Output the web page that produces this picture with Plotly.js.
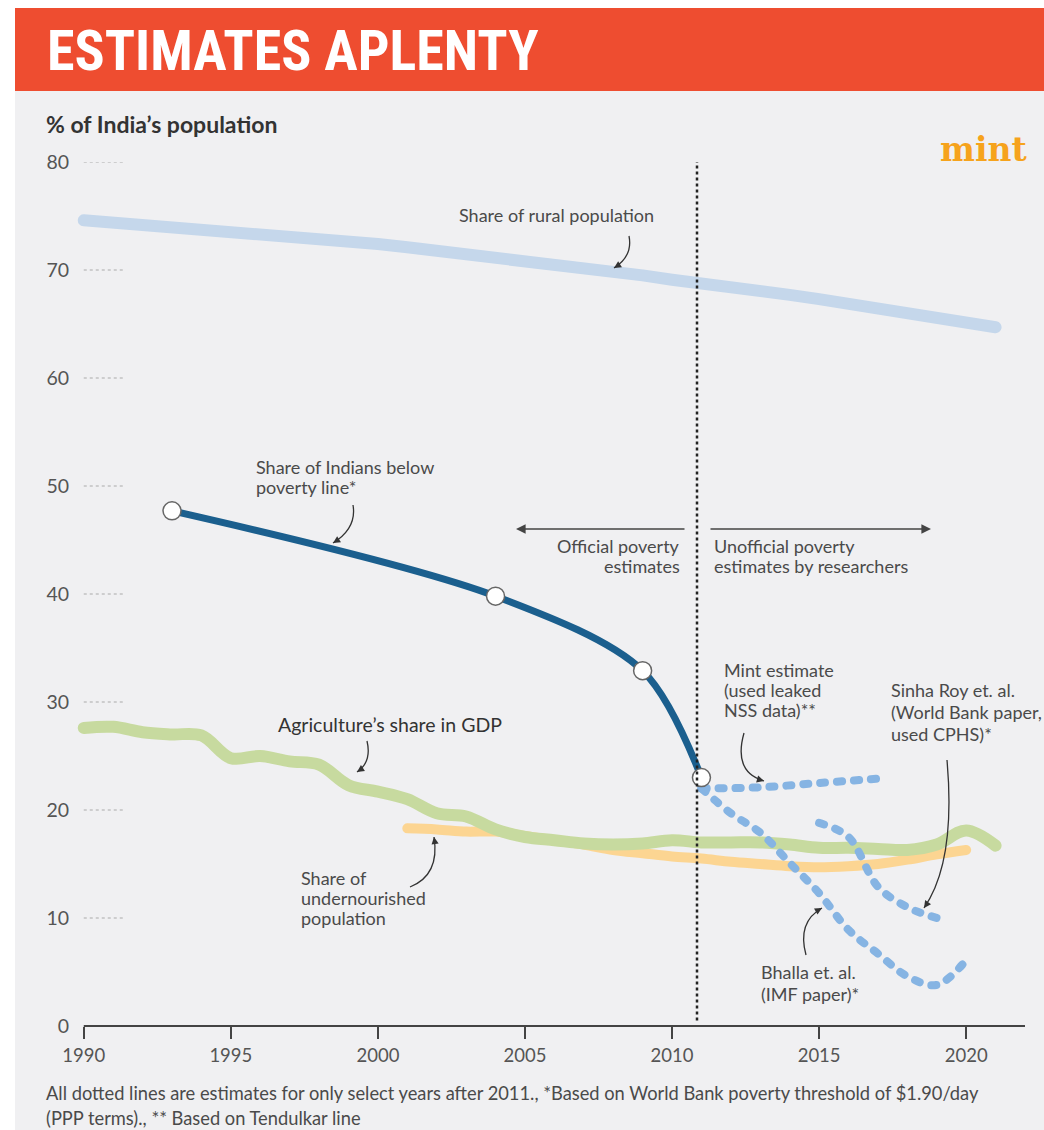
<!DOCTYPE html>
<html><head><meta charset="utf-8">
<script src="https://cdn.plot.ly/plotly-3.0.1.min.js"></script>
<style>
html,body{margin:0;padding:0;background:#fff;}
#chart{width:1044px;height:1130px;}
.scatterlayer path.js-line{stroke-linecap:round;stroke-linejoin:round;}
</style></head><body><div id="chart"></div>
<script>
// ---------------- DATA ----------------
const years = [1990,1991,1992,1993,1994,1995,1996,1997,1998,1999,2000,2001,2002,2003,2004,2005,2006,2007,2008,2009,2010,2011,2012,2013,2014,2015,2016,2017,2018,2019,2020,2021];
const ruralShare = [74.6,74.4,74.2,73.9,73.7,73.5,73.3,73.1,72.8,72.6,72.4,72.1,71.8,71.5,71.1,70.8,70.5,70.1,69.8,69.5,69.1,68.8,68.4,68.1,67.7,67.3,66.9,66.5,66.0,65.6,65.1,64.7];
const agriShare = [27.6,27.7,27.2,27.0,26.9,24.8,25.0,24.5,24.2,22.3,21.7,21.0,19.7,19.4,18.2,17.5,17.2,16.9,16.8,16.9,17.2,17.0,17.0,17.0,16.8,16.5,16.5,16.4,16.3,16.8,18.1,16.7];
const nourYears = [2001,2002,2003,2004,2005,2006,2007,2008,2009,2010,2011,2012,2013,2014,2015,2016,2017,2018,2019,2020];
const nourShare = [18.3,18.2,18.0,18.0,17.6,17.2,16.8,16.3,16.0,15.7,15.5,15.2,15.0,14.8,14.7,14.8,15.0,15.4,15.9,16.3];
const povYears = [1993,2004,2009,2011];
const povShare = [47.7,39.8,32.9,23.0];
const mintYears = [2011,2013,2015,2017];
const mintEst = [22.0,22.1,22.5,22.9];
const bhallaYears = [2011,2012,2013,2014,2015,2016,2017,2018,2019,2020];
const bhallaEst = [22.0,19.7,17.9,15.1,12.3,8.9,6.7,4.6,3.8,6.1];
const sinhaYears = [2015,2016,2017,2018,2019];
const sinhaEst = [18.8,17.5,12.9,11.0,10.0];
const xTicks = [1990,1995,2000,2005,2010,2015,2020];
const yTicks = [0,10,20,30,40,50,60,70,80];

// ---------------- GEOMETRY HELPERS ----------------
const W=1044,H=1130,L=72,R=19,T=162,B=104;
const plotW=W-L-R, plotH=H-T-B;
const X0=1989.6, X1=2022, Y0=0, Y1=80;
const pxX = px => X0 + (px-L)/plotW*(X1-X0);
const pxY = py => Y0 + (H-B-py)/plotH*(Y1-Y0);
const papX = px => (px-L)/plotW;
const papY = py => (H-B-py)/plotH;

const FONT = 'Lato, "Open Sans", "DejaVu Sans", sans-serif';
const TXT = '#4a4a4a';

// ---------------- TRACES ----------------
const dotColor = '#86b4e3';
const traces = [
  {x: years, y: ruralShare, mode:'lines', line:{color:'#c5d7eb', width:12, shape:'linear'}, hoverinfo:'skip'},
  {x: nourYears, y: nourShare, mode:'lines', line:{color:'#fcd592', width:10, shape:'spline'}, hoverinfo:'skip'},
  {x: years, y: agriShare, mode:'lines', line:{color:'#c7da9f', width:12, shape:'spline', smoothing:1}, hoverinfo:'skip'},
  {x: mintYears, y: mintEst, mode:'lines', line:{color:dotColor, width:8, dash:'5px,12px', shape:'spline'}, hoverinfo:'skip'},
  {x: bhallaYears, y: bhallaEst, mode:'lines', line:{color:dotColor, width:8, dash:'5px,12px', shape:'spline'}, hoverinfo:'skip'},
  {x: sinhaYears, y: sinhaEst, mode:'lines', line:{color:dotColor, width:8, dash:'5px,12px', shape:'spline'}, hoverinfo:'skip'},
  {x: povYears, y: povShare, mode:'lines+markers', line:{color:'#1b5f8e', width:7, shape:'spline', smoothing:0.9},
   marker:{size:18, color:'#ffffff', line:{color:'#666', width:1.5}}, hoverinfo:'skip'}
];

// ---------------- SHAPES ----------------
const shapes = [
  {type:'rect', xref:'paper', yref:'paper', x0:papX(15), x1:papX(1044), y0:papY(1130), y1:papY(90), fillcolor:'#f0f0f2', line:{width:0}, layer:'below'},
  {type:'rect', xref:'paper', yref:'paper', x0:papX(15), x1:papX(1044), y0:papY(91), y1:papY(8), fillcolor:'#ee4d30', line:{width:0}, layer:'below'},
  {type:'line', xref:'x', yref:'paper', x0:xTicks[0], x1:X1, y0:0, y1:0, line:{color:'#444', width:2}},
  {type:'line', xref:'x', yref:'y', x0:pxX(697), x1:pxX(697), y0:0.5, y1:80, line:{color:'#222', width:2.5, dash:'dot'}}
];
yTicks.filter(v=>v>0).forEach(v=>{
  shapes.push({type:'line', xref:'x', yref:'y', x0:xTicks[0], x1:xTicks[0]+1.35, y0:v, y1:v, line:{color:'#aaa', width:1, dash:'dot'}});
});

// curved pointer arrows [start, control, end] in pixels
const curves = [
  [[629,236],[633,256],[614,268]],
  [[353,505],[357,528],[333,543]],
  [[367,741],[372,762],[357,772]],
  [[410,887],[440,875],[434,837]],
  [[744,733],[733,772],[764,781]],
  [[947,760],[956,862],[924,908]],
  [[806,955],[797,922],[822,908]]
];
const annotations = [];
curves.forEach(c=>{
  const [s,ctl,e] = c;
  shapes.push({type:'path', xref:'x', yref:'y',
    path:`M ${pxX(s[0])},${pxY(s[1])} Q ${pxX(ctl[0])},${pxY(ctl[1])} ${pxX(e[0])},${pxY(e[1])}`,
    line:{color:'#333', width:1.3}});
  const dx = ctl[0]-e[0], dy = ctl[1]-e[1], len = Math.hypot(dx,dy);
  annotations.push({x:pxX(e[0]), y:pxY(e[1]), ax:dx/len*7, ay:dy/len*7, text:'', font:{size:1},
    showarrow:true, arrowhead:2, arrowsize:1.1, arrowwidth:1.3, arrowcolor:'#333', standoff:0});
});

// horizontal direction arrows
annotations.push({x:pxX(516), y:pxY(529), ax:170, ay:0, text:'', font:{size:1}, showarrow:true, arrowhead:2, arrowsize:1.2, arrowwidth:1.6, arrowcolor:'#444', standoff:0});
annotations.push({x:pxX(931), y:pxY(529), ax:-222, ay:0, text:'', font:{size:1}, showarrow:true, arrowhead:2, arrowsize:1.2, arrowwidth:1.6, arrowcolor:'#444', standoff:0});

// multi-line labels: each line placed at its own pixel row
function label(lines, px, pys, opts={}) {
  lines.forEach((t,i)=>{
    annotations.push(Object.assign({
      x:pxX(px), y:pxY(pys[i]), xref:'x', yref:'y', text:t, showarrow:false,
      xanchor:'left', yanchor:'middle', align:'left',
      font:{family:FONT, size:18, color:TXT}
    }, opts));
  });
}
label(['Share of rural population'], 457, [215]);
label(['Share of Indians below','poverty line*'], 254, [467,487]);
label(['Official poverty','estimates'], 682, [546,566], {xanchor:'right', align:'right'});
label(['Unofficial poverty','estimates by researchers'], 712, [546,566]);
label(['Agriculture’s share in GDP'], 276, [724], {font:{family:FONT, size:19.5, color:'#333'}});
label(['Share of','undernourished','population'], 299, [878,898,918]);
label(['Mint estimate','(used leaked','NSS data)**'], 722, [670,690,710]);
label(['Sinha Roy et. al.','(World Bank paper,','used CPHS)*'], 889, [690,712,734]);
label(['Bhalla et. al.','(IMF paper)*'], 759, [972,994]);

// paper-level texts
annotations.push({xref:'paper', yref:'paper', x:papX(44), y:papY(124), xanchor:'left', yanchor:'middle', showarrow:false,
  text:'% of India’s population', font:{family:FONT, size:23, color:'#333', weight:700}});
annotations.push({xref:'paper', yref:'paper', x:papX(1029), y:papY(149), xanchor:'right', yanchor:'middle', showarrow:false,
  text:'mint', font:{family:'"DejaVu Serif", "Liberation Serif", serif', size:33, color:'#f6a31c', weight:900}});
annotations.push({xref:'paper', yref:'paper', x:papX(44), y:papY(1093), xanchor:'left', yanchor:'middle', showarrow:false,
  text:'All dotted lines are estimates for only select years after 2011., *Based on World Bank poverty threshold of $1.90/day', font:{family:FONT, size:18.3, color:TXT}});
annotations.push({xref:'paper', yref:'paper', x:papX(44), y:papY(1118), xanchor:'left', yanchor:'middle', showarrow:false,
  text:'(PPP terms)., ** Based on Tendulkar line', font:{family:FONT, size:18.3, color:TXT}});

// ---------------- LAYOUT ----------------
const layout = {
  width:W, height:H,
  margin:{l:L, r:R, t:T, b:B, pad:0},
  paper_bgcolor:'#ffffff', plot_bgcolor:'rgba(0,0,0,0)',
  showlegend:false,
  title:{text:'ESTIMATES APLENTY', xref:'container', yref:'container', x:47/W, xanchor:'left', y:1-50/H, yanchor:'middle',
    font:{family:'"Liberation Sans Narrow", "Roboto Condensed", "DejaVu Sans Condensed", "Arial Narrow", sans-serif', size:56, color:'#ffffff', weight:700}},
  xaxis:{range:[X0,X1], tickmode:'array', tickvals:xTicks, ticktext:xTicks.map(String), ticks:'outside', ticklen:12, tickwidth:1.5, tickcolor:'#444',
    showgrid:false, zeroline:false, showline:false, tickfont:{family:FONT, size:18.5, color:'#555'}, ticklabelstandoff:1, fixedrange:true},
  yaxis:{range:[Y0,Y1], tickmode:'array', tickvals:yTicks, ticktext:yTicks.map(String), ticks:'', showgrid:false, zeroline:false, showline:false,
    tickfont:{family:FONT, size:19.5, color:'#555'}, ticklabelstandoff:2, fixedrange:true},
  shapes:shapes,
  annotations:annotations
};

Plotly.newPlot('chart', traces, layout, {displayModeBar:false, staticPlot:true});
</script></body></html>
